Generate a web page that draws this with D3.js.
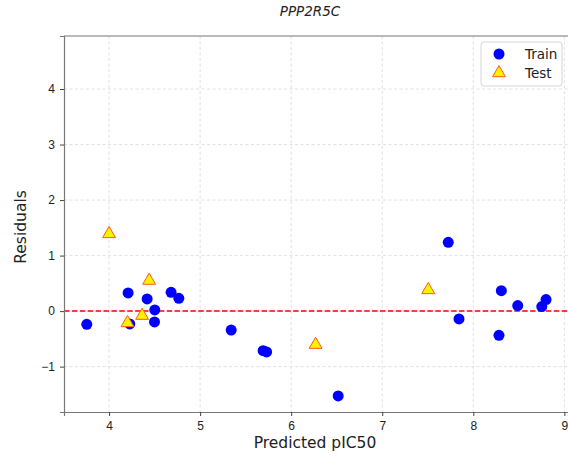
<!DOCTYPE html>
<html>
<head>
<meta charset="utf-8">
<script src="https://cdn.jsdelivr.net/npm/d3@7"></script>
<style>
  body { margin: 0; background: #fff; }
  svg { font-family: "DejaVu Sans", sans-serif; }
</style>
</head>
<body>
<svg id="chart"></svg>
<script>
// Train residuals
const trainPred = [3.755, 4.209, 4.227, 4.418, 4.502, 4.499, 4.681, 4.766, 5.341, 5.692, 5.730, 6.516, 7.725, 7.843, 8.282, 8.308, 8.488, 8.752, 8.799];
const trainResid = [-0.238, 0.328, -0.231, 0.220, 0.022, -0.195, 0.339, 0.231, -0.342, -0.712, -0.735, -1.528, 1.240, -0.141, -0.436, 0.369, 0.099, 0.081, 0.207];

// Test residuals
const testPred = [4.000, 4.440, 4.363, 4.202, 6.268, 7.505];
const testResid = [1.391, 0.550, -0.081, -0.213, -0.604, 0.382];

const xTicks = [4, 5, 6, 7, 8, 9];
const yTicks = [-1, 0, 1, 2, 3, 4];

const W = 568, H = 465;
const margin = { top: 36, right: 0, bottom: 53, left: 64 };
const width = W - margin.left - margin.right;
const height = H - margin.top - margin.bottom;

const svg = d3.select("#chart").attr("width", W).attr("height", H);
const g = svg.append("g").attr("transform", `translate(${margin.left},${margin.top})`);

const x = d3.scaleLinear().domain([3.505, 9.04]).range([0, width]);
const y = d3.scaleLinear().domain([-1.817, 4.955]).range([height, 0]);

// Grid
g.append("g").selectAll("line").data(xTicks).join("line")
  .attr("x1", d => x(d)).attr("x2", d => x(d))
  .attr("y1", 0).attr("y2", height)
  .attr("stroke", "#d9d9d9").attr("stroke-dasharray", "3,2.5").attr("stroke-width", 0.8);
g.append("g").selectAll("line").data(yTicks).join("line")
  .attr("x1", 0).attr("x2", width)
  .attr("y1", d => y(d)).attr("y2", d => y(d))
  .attr("stroke", "#d9d9d9").attr("stroke-dasharray", "3,2.5").attr("stroke-width", 0.8);

// Zero line
g.append("line")
  .attr("x1", 0).attr("x2", width)
  .attr("y1", y(0)).attr("y2", y(0))
  .attr("stroke", "red").attr("stroke-width", 1.5).attr("stroke-dasharray", "5.5,2.4");

// Train points
const train = trainPred.map((p, i) => ({ p, r: trainResid[i] }));
g.append("g").selectAll("circle").data(train).join("circle")
  .attr("cx", d => x(d.p)).attr("cy", d => y(d.r))
  .attr("r", 5.5)
  .attr("fill", "blue");

// Test points
const test = testPred.map((p, i) => ({ p, r: testResid[i] }));
const tri = d3.symbol().type(d3.symbolTriangle).size(72);
g.append("g").selectAll("path").data(test).join("path")
  .attr("d", tri)
  .attr("transform", d => `translate(${x(d.p)},${y(d.r)})`)
  .attr("fill", "#fff200").attr("stroke", "#ff5a1a").attr("stroke-width", 1);

// Axes
const xAxis = g.append("g").attr("transform", `translate(0,${height})`)
  .call(d3.axisBottom(x).tickValues(xTicks).tickSize(4).tickPadding(5).tickFormat(d3.format("d")));
const yAxis = g.append("g")
  .call(d3.axisLeft(y).tickValues(yTicks).tickSize(4).tickPadding(5).tickFormat(d => d < 0 ? "\u2212" + Math.abs(d) : d));
[xAxis, yAxis].forEach(a => {
  a.select(".domain").attr("stroke", "#777").attr("stroke-width", 1.2);
  a.selectAll(".tick line").attr("stroke", "#444");
  a.selectAll(".tick text").attr("fill", "#222").style("font-size", "12px");
});
// top spine
g.append("line").attr("x1", 0).attr("x2", width).attr("y1", 0).attr("y2", 0)
  .attr("stroke", "#777").attr("stroke-width", 1.2);

// Labels
svg.append("text").attr("x", 315).attr("y", 448).attr("text-anchor", "middle")
  .style("font-size", "15.5px").attr("fill", "#222").text("Predicted pIC50");
svg.append("text").attr("transform", `translate(26,${margin.top + height / 2 + 3}) rotate(-90)`)
  .attr("text-anchor", "middle").style("font-size", "15.5px").attr("fill", "#222").text("Residuals");
svg.append("text").attr("x", 310).attr("y", 16).attr("text-anchor", "middle")
  .style("font-size", "13.5px").style("font-style", "italic").attr("fill", "#222").text("PPP2R5C");

// Legend
const leg = svg.append("g").attr("transform", "translate(481,42)");
leg.append("rect").attr("width", 81).attr("height", 44).attr("rx", 3)
  .attr("fill", "white").attr("fill-opacity", 0.85).attr("stroke", "#d5d5d5");
leg.append("circle").attr("cx", 18).attr("cy", 12).attr("r", 5.5).attr("fill", "blue");
leg.append("path").attr("d", tri).attr("transform", "translate(18,31)")
  .attr("fill", "#fff200").attr("stroke", "#ff5a1a");
leg.append("text").attr("x", 44).attr("y", 17).style("font-size", "13.5px").attr("fill", "#222").text("Train");
leg.append("text").attr("x", 44).attr("y", 36).style("font-size", "13.5px").attr("fill", "#222").text("Test");
</script>
</body>
</html>
